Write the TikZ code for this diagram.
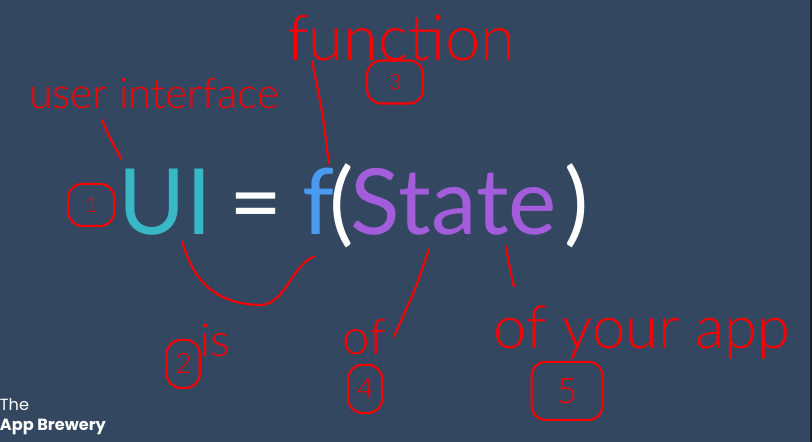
\documentclass[tikz,border=0pt]{standalone}
\usepackage{fontspec}
\setmainfont{Lato}
\newfontfamily\lightfont{Lato Light}
\newfontfamily\brewfont{Poppins}
\definecolor{slate}{RGB}{51,71,97}
\definecolor{uiteal}{RGB}{58,183,196}
\definecolor{fblue}{RGB}{74,155,240}
\definecolor{statepurple}{RGB}{163,92,218}
\definecolor{inkred}{RGB}{255,0,0}
\definecolor{edgegrey}{RGB}{30,32,38}

\begin{document}
\begin{tikzpicture}[x=0.01cm, y=-0.01cm,
  formula/.style={anchor=base west, inner sep=0pt, font=\fontsize{26}{30}\selectfont},
  hand/.style={text=inkred, inner sep=0pt, font=\lightfont\fontsize{#1}{#1}\selectfont},
  hand/.default=14,
  ring/.style={draw=inkred, text=inkred, line width=0.6pt, rounded corners=1.4mm, inner sep=0pt, font=\lightfont\fontsize{8}{8}\selectfont},
  pen/.style={draw=inkred, line width=0.6pt, line cap=round},
  brand/.style={text=white, inner sep=0pt, align=left, font=\brewfont\fontsize{4.6}{5.7}\selectfont}
]
\fill[slate] (0,0) rectangle (812,442);
\fill[edgegrey] (809.5,0) rectangle (812,442);

% the formula
\node[formula, text=uiteal] (ui) at (118,235) {UI};
\node[formula, text=white] (eq) at (229,235) {=};
\node[formula, text=fblue] (fn) at (302,235) {f};
\node[formula, text=white] (lpar) at (329,235) {(};
\node[formula, text=statepurple] (state) at (350,235) {State};
\node[formula, text=white] (rpar) at (564,235) {)};

% red notes
\node[hand=12] (userint) at (154,94) {user interface};
\node[hand=18] (func) at (401,38) {function};
\node[hand=13] (is) at (215,340) {is};
\node[hand=14] (of) at (364,337) {of};
\node[hand=17] (ofapp) at (642,332) {of your app};

\node[ring, minimum width=4.6mm, minimum height=4.2mm, font=\lightfont\fontsize{6}{6}\selectfont] (one) at (91,205) {1};
\node[ring, minimum width=3.3mm, minimum height=4.8mm] (two) at (183,364) {2};
\node[ring, minimum width=5.6mm, minimum height=4.3mm, font=\lightfont\fontsize{6}{6}\selectfont] (three) at (395,82) {3};
\node[ring, minimum width=3.4mm, minimum height=4.8mm] (four) at (365,389) {4};
\node[ring, minimum width=7.1mm, minimum height=5.8mm, font=\lightfont\fontsize{10}{10}\selectfont] (five) at (567,391) {5};

\draw[pen] ([xshift=-5.2mm,yshift=-1mm]userint.south) .. controls (108,135) .. ([xshift=0.3mm,yshift=1mm]ui.north west);
\draw[pen] ([xshift=-8.9mm]func.south) .. controls (322,110) .. ([xshift=1mm,yshift=0.4mm]fn.north);
\draw[pen] ([xshift=1.7mm,yshift=-0.5mm]ui.south) .. controls (195,290) and (225,305) .. (262,305)
  .. controls (285,303) and (292,265) .. ([xshift=-0.5mm,yshift=-2.1mm]fn.south);
\draw[pen] ([xshift=-2.5mm,yshift=-1.3mm]state.south) .. controls (415,290) .. ([xshift=0.7mm]of.east);
\draw[pen] ([xshift=5.2mm,yshift=-1mm]state.south) .. controls (510,270) .. ([xshift=2.1mm,yshift=1.8mm]ofapp.north west);

% logo
\node[brand, anchor=north west] (brewery) at (-1,398) {The\\\textbf{App Brewery}};
\end{tikzpicture}
\end{document}
